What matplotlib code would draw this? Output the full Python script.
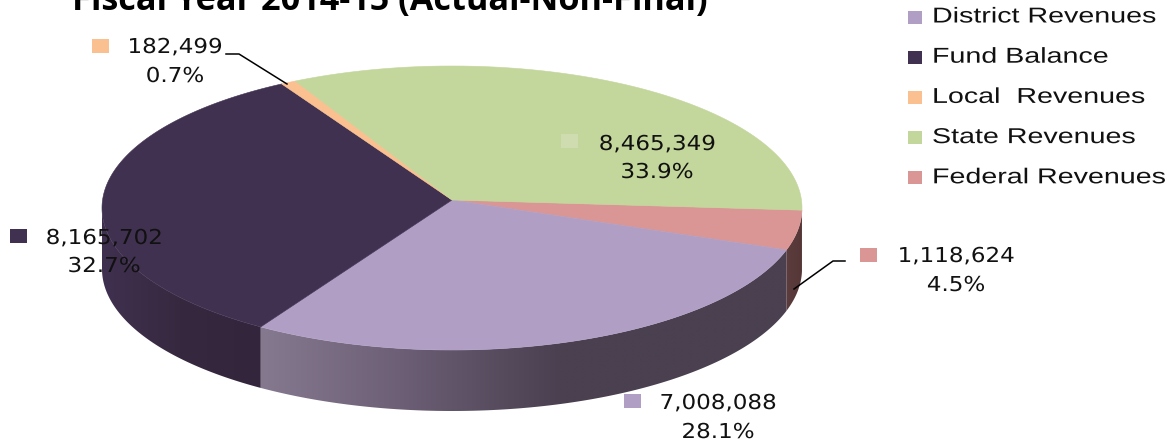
import numpy as np
import matplotlib
matplotlib.use('Agg')
import matplotlib.pyplot as plt
import matplotlib.patheffects as pe
from matplotlib.colors import to_rgb
from matplotlib.patches import Polygon, Rectangle
from matplotlib.transforms import Affine2D

title = "Fiscal Year 2014-15 (Actual-Non-Final)"

# clockwise from the state/federal boundary
categories = ['Federal Revenues', 'District Revenues', 'Fund Balance', 'Local Revenues', 'State Revenues']
values = [1118624, 7008088, 8165702, 182499, 8465349]
colors = ['#D99694', '#B09EC5', '#403151', '#FAC090', '#C3D69B']

legend_order = ['District Revenues', 'Fund Balance', 'Local  Revenues', 'State Revenues', 'Federal Revenues']
legend_colors = ['#B09EC5', '#403151', '#FAC090', '#C3D69B', '#D99694']

# (center x of text, y line 1, y line 2, marker x, marker y)
label_pos = {
    'Federal Revenues': (956, 256, 285, 868, 254.5),
    'District Revenues': (718, 403, 432, 632, 400.5),
    'Fund Balance': (104, 238, 266, 18, 235.5),
    'Local Revenues': (175, 47, 76, 100, 45.5),
    'State Revenues': (657, 144, 172, 569.5, 141),
}

# shading of the side wall, colour per pixel x
wall_shade = {
    'Federal Revenues': ([780, 805], ['#5E3E3E', '#553636']),
    'District Revenues': ([262, 400, 560, 800], ['#85798F', '#6C5F76', '#4A4050', '#4A4050']),
    'Fund Balance': ([102, 180, 262], ['#403050', '#36293F', '#32253C']),
}

CX, CY, RX, RY = 452, 208, 350, 142
APEX = (452, 200)
DEPTH = 61
# perspective bend of the rim angles
TILT = 4j / RY
START = -4.1


class StretchX(pe.AbstractPathEffect):
    # the fonts in the reference are drawn wider than normal
    def __init__(self, x0, sx):
        super().__init__()
        self.x0 = x0
        self.sx = sx

    def draw_path(self, renderer, gc, tpath, affine, rgbFace=None):
        warp = Affine2D().translate(-self.x0, 0).scale(self.sx, 1).translate(self.x0, 0)
        renderer.draw_path(gc, tpath, affine + warp, rgbFace)


def rim(deg):
    z = np.exp(1j * np.radians(deg))
    w = (z + TILT) / (1 + np.conj(TILT) * z)
    return CX + RX * w.real, CY - RY * w.imag


def stretched_text(ax, x, y, s, sx, **kw):
    t = ax.text(x, y, s, **kw)
    t.set_path_effects([StretchX(x, sx)])
    return t


def square(ax, x, y, w, h, col):
    ax.add_patch(Rectangle((x - w / 2, y - h / 2), w, h, fc=col, ec='none', zorder=4))


fig = plt.figure(figsize=(11.72, 4.45), dpi=100)
ax = fig.add_axes([0, 0, 1, 1])

total = sum(values)
angle = START
spans = {}
for name, val in zip(categories, values):
    spans[name] = (angle, angle - 360.0 * val / total)
    angle = spans[name][1]

# side wall first, gradient image clipped to the wall outline
for name, (a0, a1) in spans.items():
    if name not in wall_shade:
        continue
    xp, cp = wall_shade[name]
    rgb = np.array([to_rgb(c) for c in cp])
    x, y = rim(np.linspace(a0, a1, 300))
    keep = y >= CY - 1
    x, y = x[keep], y[keep]
    outline = np.c_[np.r_[x, x[::-1]], np.r_[y, y[::-1] + DEPTH]]
    gx = np.arange(int(x.min()) - 1, int(x.max()) + 2)
    grad = np.stack([np.interp(gx, xp, rgb[:, i]) for i in range(3)], axis=-1)[None, :, :]
    im = ax.imshow(grad, extent=[gx[0], gx[-1], y.max() + DEPTH + 1, y.min() - 1],
                   aspect='auto', interpolation='bilinear', zorder=1)
    clip = Polygon(outline, closed=True, transform=ax.transData, fc='none', ec='none')
    ax.add_patch(clip)
    im.set_clip_path(clip)

# top face
for name, col in zip(categories, colors):
    a0, a1 = spans[name]
    x, y = rim(np.linspace(a0, a1, 200))
    ax.fill(np.r_[APEX[0], x], np.r_[APEX[1], y], color=col, lw=0.4, zorder=2)

# leader lines
ax.plot([226, 239, 287], [54, 54, 84], color='black', lw=1.1, zorder=3)
ax.plot([845, 833, 794], [261, 261, 289], color='black', lw=1.1, zorder=3)

# data labels
for name, val, col in zip(categories, values, colors):
    xt, y1, y2, xm, ym = label_pos[name]
    mcol = '#CFDCB0' if name == 'State Revenues' else col
    square(ax, xm, ym, 17, 14, mcol)
    stretched_text(ax, xt, y1, f"{val:,}", 1.12, ha='center', va='center', fontsize=14.8,
                   family='DejaVu Sans', color='#111111', zorder=5)
    stretched_text(ax, xt, y2, f"{100 * val / total:.1f}%", 1.12, ha='center', va='center', fontsize=14.8,
                   family='DejaVu Sans', color='#111111', zorder=5)

# legend
for i, (name, col) in enumerate(zip(legend_order, legend_colors)):
    y = 17 + i * 40.2
    square(ax, 915, y, 14, 13, col)
    stretched_text(ax, 932, y, name, 1.33, ha='left', va='center', fontsize=15.5,
                   family='Liberation Sans', color='#111111', zorder=5)

ax.text(72, 10, title, ha='left', va='baseline', fontsize=24.7, fontweight='bold',
        family='Open Sans', color='black', zorder=5)

ax.set_xlim(0, 1172)
ax.set_ylim(445, 0)
ax.axis('off')

fig.savefig('out.png', dpi=100)
